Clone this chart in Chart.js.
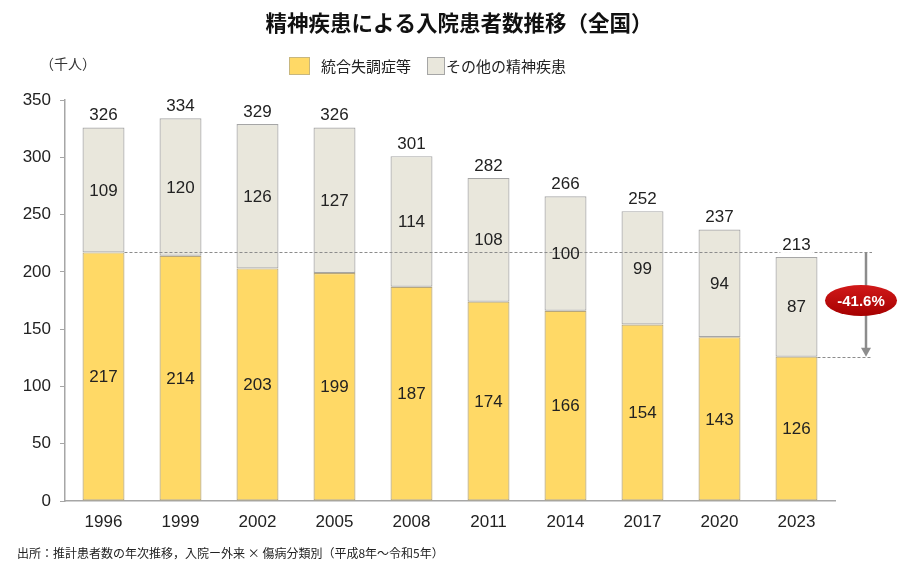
<!DOCTYPE html>
<html lang="ja">
<head>
<meta charset="utf-8">
<title>精神疾患による入院患者数推移（全国）</title>
<script src="https://cdn.jsdelivr.net/npm/chart.js@4.4.1/dist/chart.umd.min.js"></script>
<style>
  html, body { margin: 0; padding: 0; background: #fff; }
  #wrap { width: 918px; height: 569px; position: relative; }
</style>
</head>
<body>
<div id="wrap"><canvas id="chart"></canvas></div>
<script>
// values (thousand persons)
const years = ['1996', '1999', '2002', '2005', '2008', '2011', '2014', '2017', '2020', '2023'];
const schizophrenia = [217, 214, 203, 199, 187, 174, 166, 154, 143, 126];
const otherMental = [109, 120, 126, 127, 114, 108, 100, 99, 94, 87];
const totals = [326, 334, 329, 326, 301, 282, 266, 252, 237, 213];
const seriesNames = ['統合失調症等', 'その他の精神疾患'];
const changeLabel = '-41.6%';

const JP = '"Noto Sans CJK JP", "Noto Sans", sans-serif';
const NUM = '"Liberation Sans", Arial, sans-serif';

// title, legend, unit, source note, value labels and the -41.6% marker
const overlay = {
  id: 'overlay',
  afterDraw(chart) {
    const { ctx, scales: { x } } = chart;
    const m0 = chart.getDatasetMeta(0);
    const m1 = chart.getDatasetMeta(1);
    ctx.save();

    // title
    ctx.fillStyle = '#111';
    ctx.font = 'bold 21.5px ' + JP;
    ctx.textAlign = 'center';
    ctx.textBaseline = 'middle';
    ctx.fillText('精神疾患による入院患者数推移（全国）', 459, 23);

    // unit
    ctx.font = '14px ' + JP;
    ctx.textAlign = 'left';
    ctx.fillStyle = '#333';
    ctx.fillText('（千人）', 40, 64);

    // legend
    ctx.font = '15px ' + JP;
    ctx.lineWidth = 1;
    ctx.fillStyle = '#ffd966';
    ctx.fillRect(289, 57, 20, 17);
    ctx.strokeStyle = '#c8b77e';
    ctx.strokeRect(289.5, 57.5, 20, 17);
    ctx.fillStyle = '#222';
    ctx.fillText(seriesNames[0], 321, 66);
    ctx.fillStyle = '#e9e7dc';
    ctx.fillRect(427, 57, 17, 17);
    ctx.strokeStyle = '#a6a6a6';
    ctx.strokeRect(427.5, 57.5, 17, 17);
    ctx.fillStyle = '#222';
    ctx.fillText(seriesNames[1], 446, 66);

    // source note
    ctx.font = '12px ' + JP;
    ctx.fillStyle = '#222';
    ctx.fillText('出所：推計患者数の年次推移，入院ー外来 × 傷病分類別（平成8年～令和5年）', 17, 553);

    // dashed reference lines
    const first = m0.data[0];
    const last = m0.data[m0.data.length - 1];
    const xEnd = x.right + 37;
    ctx.setLineDash([3, 2]);
    ctx.strokeStyle = '#8c8c8c';
    ctx.beginPath();
    ctx.moveTo(first.x + first.width / 2, Math.round(first.y) + 0.5);
    ctx.lineTo(xEnd, Math.round(first.y) + 0.5);
    ctx.moveTo(last.x + last.width / 2, Math.round(last.y) + 0.5);
    ctx.lineTo(xEnd, Math.round(last.y) + 0.5);
    ctx.stroke();
    ctx.setLineDash([]);

    // arrow
    const ax = x.right + 31;
    ctx.strokeStyle = '#8c8c8c';
    ctx.fillStyle = '#8c8c8c';
    ctx.lineWidth = 2.5;
    ctx.beginPath();
    ctx.moveTo(ax, first.y);
    ctx.lineTo(ax, last.y - 8);
    ctx.stroke();
    ctx.beginPath();
    ctx.moveTo(ax - 5, last.y - 9);
    ctx.lineTo(ax + 5, last.y - 9);
    ctx.lineTo(ax, last.y);
    ctx.closePath();
    ctx.fill();

    // red ellipse badge
    const ex = x.right + 26;
    const ey = (first.y + last.y) / 2 - 4;
    const g = ctx.createLinearGradient(0, ey - 16, 0, ey + 16);
    g.addColorStop(0, '#d21a1a');
    g.addColorStop(1, '#a50000');
    ctx.fillStyle = g;
    ctx.beginPath();
    ctx.ellipse(ex, ey, 36, 15.5, 0, 0, Math.PI * 2);
    ctx.fill();
    ctx.fillStyle = '#fff';
    ctx.font = 'bold 15px ' + NUM;
    ctx.textAlign = 'center';
    ctx.fillText(changeLabel, ex, ey + 1);

    // value labels
    ctx.font = '17px ' + NUM;
    ctx.fillStyle = '#222';
    m0.data.forEach((bar, i) => {
      ctx.fillText(String(schizophrenia[i]), bar.x, (bar.y + bar.base) / 2 + 1);
    });
    m1.data.forEach((bar, i) => {
      ctx.fillText(String(otherMental[i]), bar.x, (bar.y + bar.base) / 2 + 1);
      const ty = bar.y - 12;
      const w = ctx.measureText(String(totals[i])).width;
      ctx.fillStyle = '#fff';
      ctx.fillRect(bar.x - w / 2 - 2, ty - 9, w + 4, 17);
      ctx.fillStyle = '#222';
      ctx.fillText(String(totals[i]), bar.x, ty);
    });

    ctx.restore();
  }
};

new Chart(document.getElementById('chart'), {
  type: 'bar',
  data: {
    labels: years,
    datasets: [
      {
        label: seriesNames[0],
        data: schizophrenia,
        backgroundColor: '#ffd966',
        borderColor: '#b8a77a',
        borderWidth: 1.2,
        borderSkipped: false
      },
      {
        label: seriesNames[1],
        data: otherMental,
        backgroundColor: '#e9e7dc',
        borderColor: '#a6a6a6',
        borderWidth: 1.2,
        borderSkipped: false
      }
    ]
  },
  options: {
    responsive: true,
    maintainAspectRatio: false,
    animation: false,
    events: [],
    layout: { padding: { top: 100, right: 83, bottom: 28, left: 0 } },
    datasets: { bar: { categoryPercentage: 1, barPercentage: 0.545 } },
    plugins: {
      legend: { display: false },
      title: { display: false },
      tooltip: { enabled: false }
    },
    scales: {
      x: {
        stacked: true,
        afterFit: s => { s.height = 40; },
        grid: { display: true, drawOnChartArea: false, drawTicks: false },
        border: { color: '#a6a6a6', width: 1.5 },
        ticks: { color: '#222', padding: 11, font: { family: NUM, size: 17 } }
      },
      y: {
        stacked: true,
        min: 0,
        max: 350,
        afterFit: s => { s.width = 65; },
        grid: { display: true, drawOnChartArea: false, drawTicks: true, tickLength: 5, color: '#a6a6a6' },
        border: { color: '#a6a6a6', width: 1.5 },
        ticks: { stepSize: 50, color: '#222', padding: 9, font: { family: NUM, size: 17 } }
      }
    }
  },
  plugins: [overlay]
});
</script>
</body>
</html>
